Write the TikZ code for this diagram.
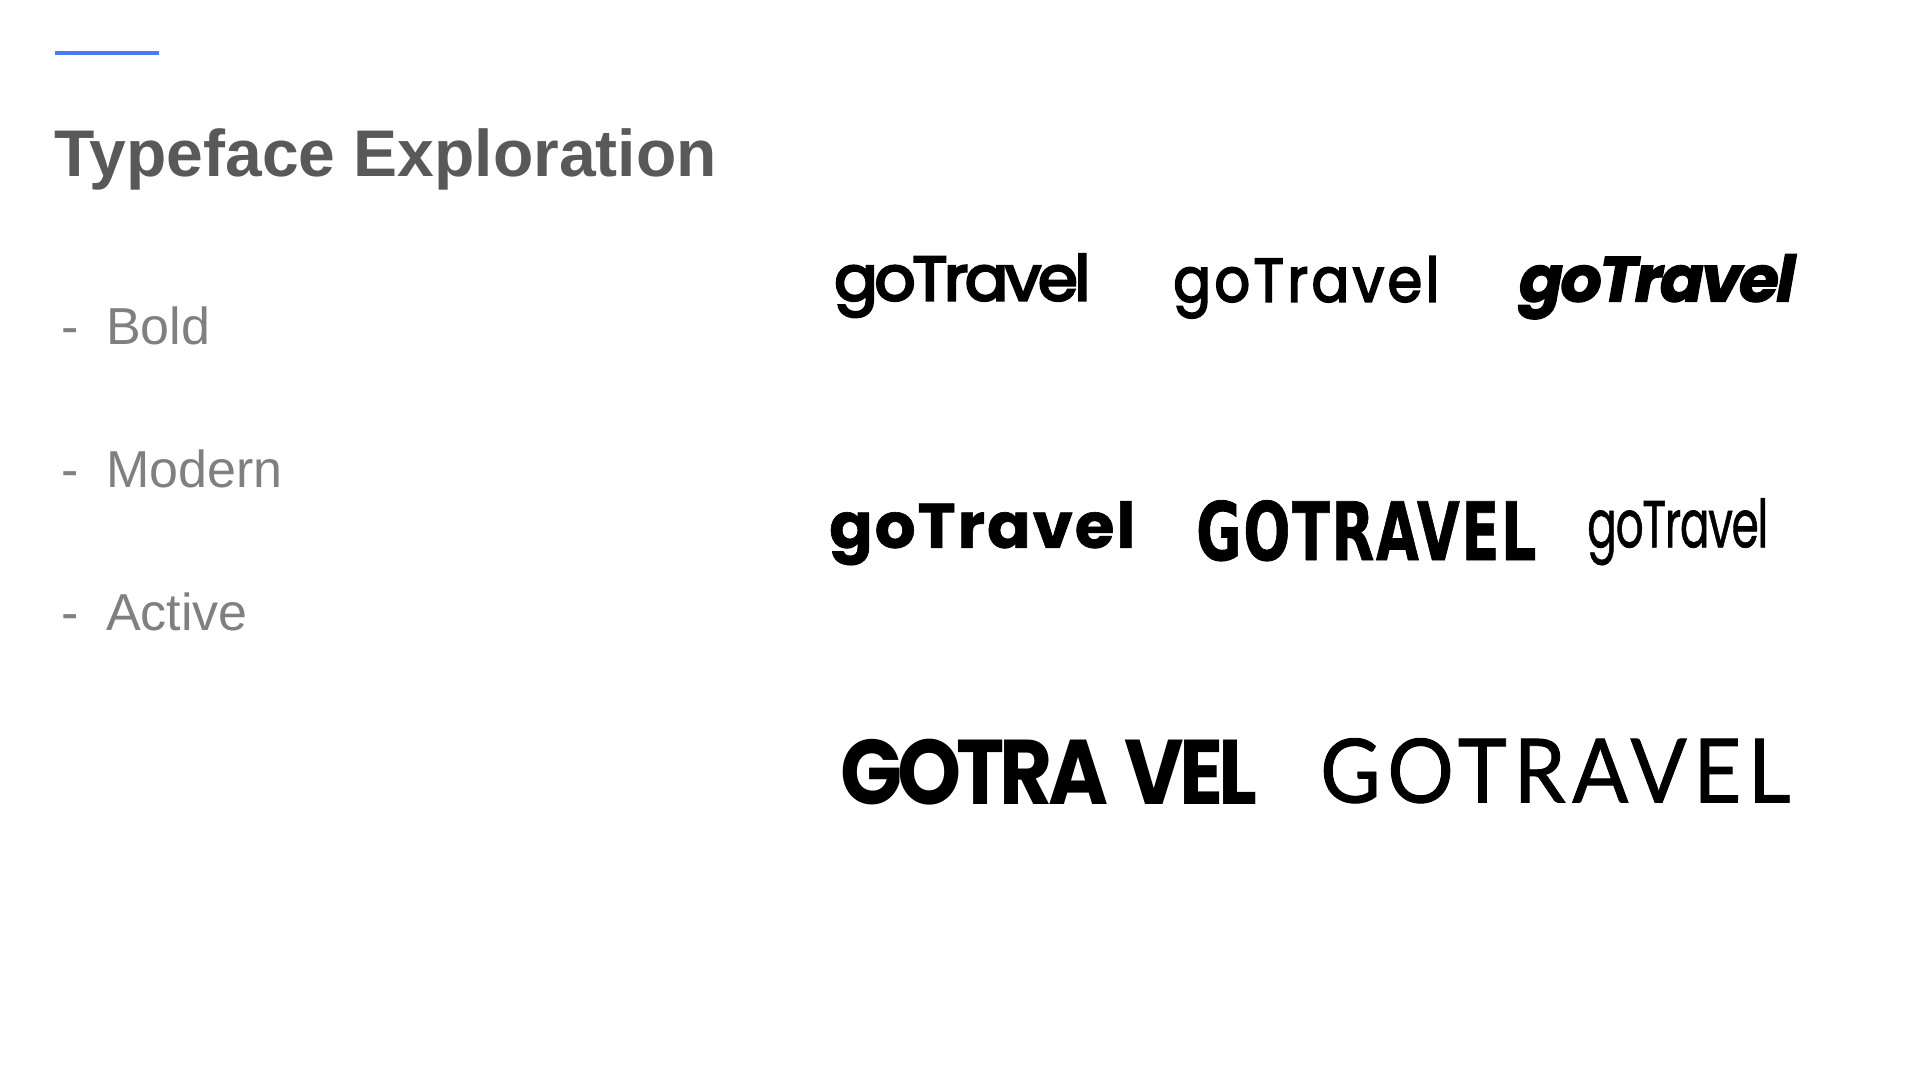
\documentclass[tikz,border=0pt]{standalone}
\usepackage{fontspec}
\usepackage{graphicx}
\setmainfont{Liberation Sans}
\newfontfamily\popfont{Poppins}
\newfontfamily\dejafont{DejaVu Sans}
\newfontfamily\latofont{Lato}
\usetikzlibrary{positioning}
\definecolor{titlegray}{HTML}{595959}
\definecolor{bodygray}{HTML}{808080}
\definecolor{rulecolor}{HTML}{4A7BF7}
\newcommand{\mtext}[5][bodygray]{
  \node [anchor=base west,inner sep=0,text=#1] (#5) at #2 {\fontsize{#3}{0}\selectfont #4};
}
\newcommand{\mlogo}[6]{
  \node [anchor=north west,inner sep=0] (#6) at #1 {\resizebox*{#2pt}{#3pt}{#4{}#5}};
}

\begin{document}
\begin{tikzpicture}[x=1pt,y=-1pt]
  \useasboundingbox (0,0) rectangle (1920,1080);
  \draw [rulecolor,line width=4pt] (55,53) -- (159,53);
  \mtext[titlegray]{(54,176)}{66}{\textbf{Typeface Exploration}}{title}

  \mtext{(61,344)}{52}{-}{dasha}
  \mtext{(106,344)}{52}{Bold}{bold}
  \mtext{(61,487)}{52}{-}{dashb}
  \mtext{(106,487)}{52}{Modern}{modern}
  \mtext{(61,630)}{52}{-}{dashc}
  \mtext{(106,630)}{52}{Active}{active}

  \mlogo{(834,254)}{256}{63}{\popfont\addfontfeatures{LetterSpace=-5,FakeBold=4}}{goTravel}{loga}
  \mlogo{(1173,256)}{266}{62}{\popfont\addfontfeatures{LetterSpace=6,FakeBold=3}}{goTravel}{logb}
  \mlogo{(1519,254)}{276}{65}{\popfont\bfseries\itshape\addfontfeatures{LetterSpace=-4,FakeBold=2}}{goTravel}{logc}
  \mlogo{(829,501)}{306}{64}{\popfont\bfseries\addfontfeatures{LetterSpace=3,FakeBold=1}}{goTravel}{logd}
  \mlogo{(1196,500)}{340}{61}{\dejafont\bfseries\addfontfeatures{LetterSpace=3,FakeBold=1}}{GOTRAVEL}{loge}
  \mlogo{(1587,498)}{181}{67}{\popfont\addfontfeatures{LetterSpace=-3,FakeBold=1}}{goTravel}{logf}
  \mlogo{(840,739)}{417}{66}{\popfont\bfseries\addfontfeatures{LetterSpace=-6}}{GOTRA\kern 2pt VEL}{logg}
  \mlogo{(1320,738)}{470}{65}{\latofont\addfontfeatures{LetterSpace=8,FakeBold=1}}{GOTRAVEL}{logh}
\end{tikzpicture}
\end{document}
